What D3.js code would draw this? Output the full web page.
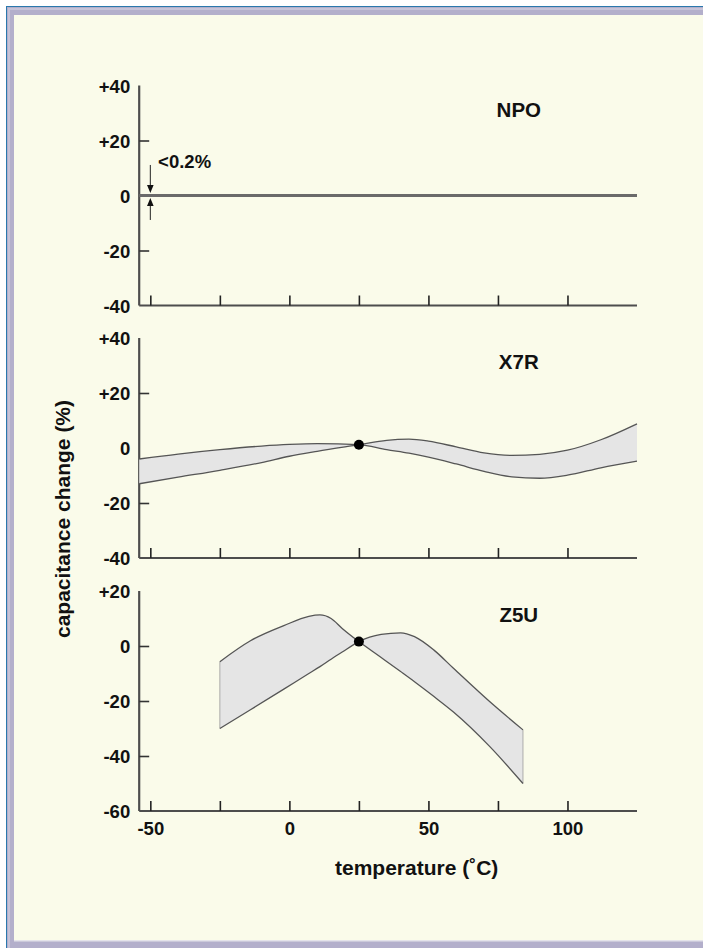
<!DOCTYPE html>
<html><head><meta charset="utf-8">
<script src="https://cdn.jsdelivr.net/npm/d3@7/dist/d3.min.js"></script>
<style>
html,body{margin:0;padding:0;background:#fff;}
svg{display:block;}
text{font-family:"Liberation Sans",Arial,sans-serif;font-weight:bold;fill:#111;}
</style></head>
<body>
<script>
// ---- data ----
const xTicks = [-50, -25, 0, 25, 50, 75, 100];
const xTickLabels = ["-50", "0", "50", "100"];
const xTickLabelValues = [-50, 0, 50, 100];
const panelNames = ["NPO", "X7R", "Z5U"];
const yDomains = [[-40, 40], [-40, 40], [-60, 20]];
const yTickLabels = [["-40", "-20", "0", "+20", "+40"], ["-40", "-20", "0", "+20", "+40"], ["-60", "-40", "-20", "0", "+20"]];
const yTickValues = [[-40, -20, 0, 20, 40], [-40, -20, 0, 20, 40], [-60, -40, -20, 0, 20]];
const yInnerTicks = [[-20, 20], [-20, 20], [-40, -20, 0]];

const npoTemps = [-54, 125];
const npoValues = [0, 0];

// X7R: two curves crossing at the 25°C reference point
const x7rTemps = [-54, -40, -25, -10, 0, 10, 25, 35, 43, 50, 60, 70, 80, 90, 100, 112, 125];
const x7rCurveA = [-4, -2.2, -0.6, 0.7, 1.3, 1.6, 1.2, -0.6, -1.9, -3.3, -5.8, -8.5, -10.5, -11, -9.9, -7.2, -4.8];
const x7rCurveB = [-13, -10.6, -8.1, -5.3, -3, -1.2, 1.2, 2.8, 3.2, 2.5, 0.4, -1.8, -2.7, -2.3, -0.8, 3, 8.8];

// Z5U
const z5uTemps = [-25, -14, -2, 7, 11, 15, 19, 25, 33, 40, 45, 52, 59, 72, 84];
const z5uCurveA = [-5.7, 1.9, 7.4, 10.8, 11.3, 10, 6.4, 1.6, -4.2, -9.3, -13, -18.4, -24, -36.5, -50];
const z5uCurveB = [-30, -23.2, -15.7, -10, -7.5, -4.8, -2.2, 1.6, 4.2, 4.8, 3.4, -1.5, -8.1, -20.2, -30.5];

const refTemp = 25;
const x7rRef = 1.2;
const z5uRef = 1.6;

// ---- layout ----
const W = 703, H = 948;
const svg = d3.select("body").append("svg").attr("width", W).attr("height", H);

// frame
svg.append("rect").attr("x", 0).attr("y", 0).attr("width", W).attr("height", H).attr("fill", "#ffffff");
svg.append("rect").attr("x", 6).attr("y", 6).attr("width", W).attr("height", H).attr("fill", "#2a78ad");
svg.append("rect").attr("x", 7).attr("y", 7).attr("width", W).attr("height", H - 7).attr("fill", "#b3afcb");
svg.append("rect").attr("x", 8).attr("y", 8).attr("width", W).attr("height", 2).attr("fill", "#c6c3d8");
svg.append("rect").attr("x", 8).attr("y", 8).attr("width", 2).attr("height", H).attr("fill", "#c6c3d8");
svg.append("rect").attr("x", 14).attr("y", 15).attr("width", W).attr("height", 941 - 15).attr("fill", "#fafbea");
svg.append("rect").attr("x", 14).attr("y", 940).attr("width", W).attr("height", 1.5).attr("fill", "#e4e3ea");

const x = d3.scaleLinear().domain([-54, 125]).range([139.2, 637]);
const panelTops = [85.5, 338, 591];
const panelH = 220;

const axisColor = "#4d4d4d";

panelTops.forEach((top, i) => {
  const y = d3.scaleLinear().domain(yDomains[i]).range([top + panelH, top]);
  const g = svg.append("g");

  // x axis
  const xa = d3.axisTop(x).tickValues(xTicks).tickSize(10).tickFormat("");
  const gx = g.append("g").attr("transform", `translate(0,${top + panelH})`).call(xa);
  gx.select(".domain").attr("d", `M${x(-54)},0H${x(125)}`).attr("stroke", axisColor).attr("stroke-width", 2.2);
  gx.selectAll(".tick line").attr("stroke", "#222").attr("stroke-width", 1.6);

  // y axis
  const ya = d3.axisRight(y).tickValues(yInnerTicks[i]).tickSize(10).tickFormat("");
  const gy = g.append("g").attr("transform", `translate(${x(-54)},0)`).call(ya);
  gy.select(".domain").attr("d", `M0,${top}V${top + panelH}`).attr("stroke", axisColor).attr("stroke-width", 2.2);
  gy.selectAll(".tick line").attr("stroke", "#333").attr("stroke-width", 1.6);

  // y tick labels
  const yl = d3.axisLeft(y).tickValues(yTickValues[i]).tickSize(0).tickPadding(0)
    .tickFormat((d, k) => yTickLabels[i][k]);
  const gyl = g.append("g").attr("transform", `translate(${x(-54) - 9},0)`).call(yl);
  gyl.select(".domain").remove();
  gyl.selectAll(".tick text").attr("font-size", 18.5).attr("font-family", null).attr("fill", "#111").attr("dy", "0.36em");

  // panel label
  g.append("text").attr("x", x(82.5)).attr("y", top + 31).attr("text-anchor", "middle")
    .attr("font-size", 20.5).text(panelNames[i]);

  if (i === 2) {
    const xl = d3.axisBottom(x).tickValues(xTickLabelValues).tickSize(0).tickPadding(11)
      .tickFormat((d, k) => xTickLabels[k]);
    const gxl = g.append("g").attr("transform", `translate(0,${top + panelH})`).call(xl);
    gxl.select(".domain").remove();
    gxl.selectAll(".tick text").attr("font-size", 18.5).attr("font-family", null).attr("fill", "#111");
  }

  const line = d3.line().x(d => x(d[0])).y(d => y(d[1])).curve(d3.curveMonotoneX);
  const area = d3.area().x(d => x(d[0])).y0(d => y(d[2])).y1(d => y(d[1])).curve(d3.curveMonotoneX);

  if (i === 0) {
    const pts = npoTemps.map((t, k) => [t, npoValues[k]]);
    g.append("path").attr("d", d3.line().x(d => x(d[0])).y(d => y(d[1]))(pts))
      .attr("stroke", "#6a6a6a").attr("stroke-width", 2.8).attr("fill", "none");
    // arrows
    const ax = x(-50);
    g.append("line").attr("x1", ax).attr("x2", ax).attr("y1", y(11.1)).attr("y2", y(3))
      .attr("stroke", "#222").attr("stroke-width", 1);
    g.append("path").attr("d", `M${ax - 3.3},${y(3.8)}L${ax + 3.3},${y(3.8)}L${ax},${y(0.9)}Z`).attr("fill", "#111");
    g.append("line").attr("x1", ax).attr("x2", ax).attr("y1", y(-8.9)).attr("y2", y(-3))
      .attr("stroke", "#222").attr("stroke-width", 1);
    g.append("path").attr("d", `M${ax - 3.3},${y(-3.8)}L${ax + 3.3},${y(-3.8)}L${ax},${y(-0.9)}Z`).attr("fill", "#111");
    g.append("text").attr("x", x(-47.2)).attr("y", y(10)).attr("font-size", 18.5).text("<0.2%");
  } else {
    const temps = i === 1 ? x7rTemps : z5uTemps;
    const ca = i === 1 ? x7rCurveA : z5uCurveA;
    const cb = i === 1 ? x7rCurveB : z5uCurveB;
    const pts = temps.map((t, k) => [t, ca[k], cb[k]]);
    g.append("path").attr("d", area(pts)).attr("fill", "#e5e5e5").attr("fill-rule", "nonzero");
    if (i === 2) {
      const first = pts[0], last = pts[pts.length - 1];
      [first, last].forEach(p => {
        g.append("line").attr("x1", x(p[0])).attr("x2", x(p[0])).attr("y1", y(p[1])).attr("y2", y(p[2]))
          .attr("stroke", "#9a9a9a").attr("stroke-width", 0.8);
      });
    }
    g.append("path").attr("d", line(pts.map(d => [d[0], d[1]]))).attr("fill", "none")
      .attr("stroke", "#555").attr("stroke-width", 1.3);
    g.append("path").attr("d", line(pts.map(d => [d[0], d[2]]))).attr("fill", "none")
      .attr("stroke", "#555").attr("stroke-width", 1.3);
    g.append("circle").attr("cx", x(refTemp)).attr("cy", y(i === 1 ? x7rRef : z5uRef)).attr("r", 5).attr("fill", "#000");
  }
});

// axis titles
svg.append("text").attr("x", 335).attr("y", 875).attr("font-size", 21)
  .text("temperature (˚C)");
svg.append("text").attr("transform", `translate(70,519) rotate(-90)`).attr("text-anchor", "middle").attr("font-size", 21)
  .text("capacitance change (%)");
</script>
</body></html>
